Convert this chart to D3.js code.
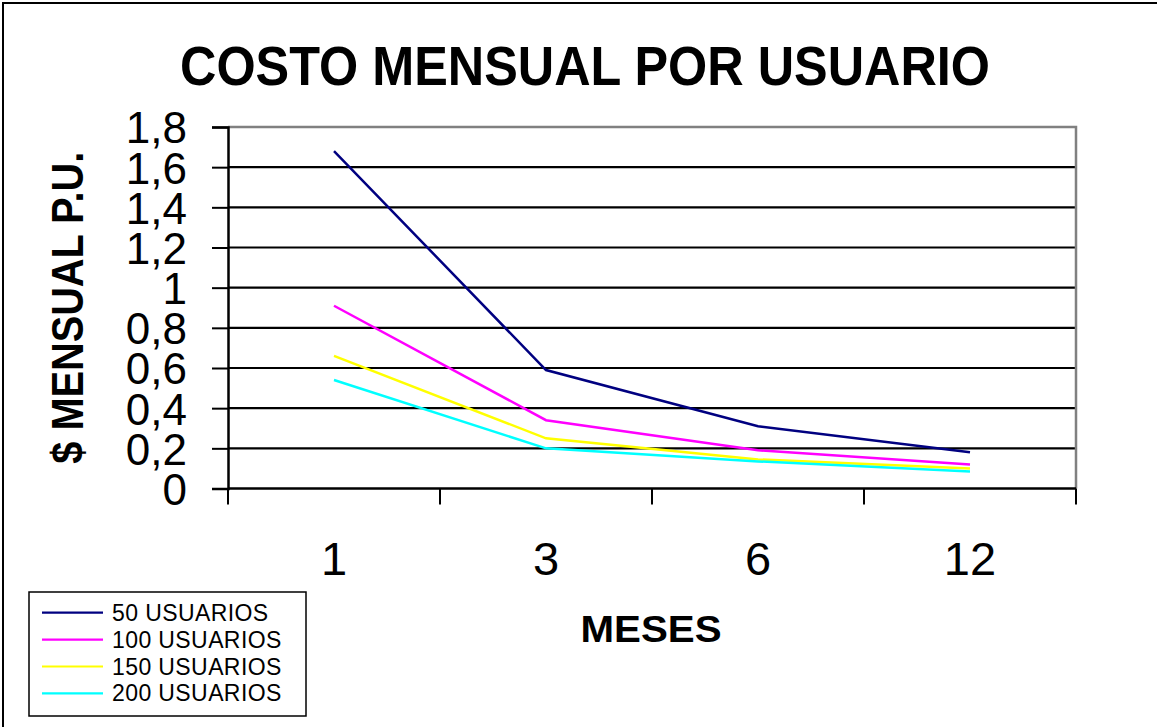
<!DOCTYPE html>
<html>
<head>
<meta charset="utf-8">
<script src="https://cdn.jsdelivr.net/npm/d3@7"></script>
<style>
  html, body { margin: 0; padding: 0; background: #fff; }
  svg { display: block; font-family: "Liberation Sans", Arial, sans-serif; }
</style>
</head>
<body>
<svg id="chart" width="1157" height="727"></svg>
<script>
// Months on the horizontal axis
const months = ["1", "3", "6", "12"];

// Monthly cost per user for each subscription size
const series50 = [1.68, 0.59, 0.31, 0.18];
const series100 = [0.91, 0.34, 0.19, 0.12];
const series150 = [0.66, 0.25, 0.145, 0.10];
const series200 = [0.54, 0.20, 0.135, 0.085];

const seriesNames = ["50 USUARIOS", "100 USUARIOS", "150 USUARIOS", "200 USUARIOS"];
const seriesColors = ["#000080", "#ff00ff", "#ffff00", "#00ffff"];
const yTickValues = [0, 0.2, 0.4, 0.6, 0.8, 1.0, 1.2, 1.4, 1.6, 1.8];

const allSeries = [series50, series100, series150, series200];

const svg = d3.select("#chart");
const W = 1157, H = 727;

// Plot area
const plot = { left: 228, right: 1076, top: 127, bottom: 488.5 };

const x = d3.scaleBand().domain(months).range([plot.left, plot.right]).padding(0);
const y = d3.scaleLinear().domain([0, 1.8]).range([plot.bottom, plot.top]);

const locale = d3.formatLocale({ decimal: ",", thousands: ".", grouping: [3], currency: ["$", ""] });
const fmt = locale.format(".1~f");

// Outer frame
svg.append("rect")
  .attr("x", 3).attr("y", 3)
  .attr("width", W + 10).attr("height", H + 10)
  .attr("fill", "#fff").attr("stroke", "#000").attr("stroke-width", 2);

// Title
svg.append("text")
  .attr("x", 585).attr("y", 85)
  .attr("text-anchor", "middle")
  .attr("font-size", 55).attr("font-weight", "bold")
  .attr("textLength", 810).attr("lengthAdjust", "spacingAndGlyphs")
  .text("COSTO MENSUAL POR USUARIO");

// Horizontal gridlines
svg.append("g")
  .selectAll("line")
  .data(yTickValues.filter(v => v > 0 && v < 1.8))
  .join("line")
  .attr("x1", plot.left).attr("x2", plot.right)
  .attr("y1", d => y(d)).attr("y2", d => y(d))
  .attr("stroke", "#000").attr("stroke-width", 2.2);

// Plot frame top and right (grey)
svg.append("path")
  .attr("d", `M${plot.left},${y(1.8)}H${plot.right}V${plot.bottom}`)
  .attr("fill", "none").attr("stroke", "#808080").attr("stroke-width", 2.5);

// Y axis
const yAxis = svg.append("g")
  .attr("transform", `translate(${plot.left},0)`)
  .call(d3.axisLeft(y).tickValues(yTickValues).tickFormat(fmt).tickSize(16).tickPadding(25));
yAxis.select(".domain").attr("stroke", "#000").attr("stroke-width", 2.5);
yAxis.selectAll(".tick line").attr("stroke", "#000").attr("stroke-width", 2);
yAxis.selectAll(".tick text")
  .attr("font-size", 44).attr("fill", "#000")
  .attr("font-family", "Liberation Sans, Arial, sans-serif")
  .attr("dy", "0.36em");

// X axis with ticks at band boundaries
const xAxis = svg.append("g")
  .attr("transform", `translate(0,${plot.bottom})`);
xAxis.append("line")
  .attr("x1", plot.left).attr("x2", plot.right)
  .attr("stroke", "#000").attr("stroke-width", 2.5);
const boundaries = months.map(m => x(m)).concat([x(months[months.length - 1]) + x.bandwidth()]);
xAxis.selectAll("line.tk")
  .data(boundaries)
  .join("line")
  .attr("class", "tk")
  .attr("x1", d => d).attr("x2", d => d)
  .attr("y1", 0).attr("y2", 16)
  .attr("stroke", "#000").attr("stroke-width", 2);
xAxis.selectAll("text")
  .data(months)
  .join("text")
  .attr("x", d => x(d) + x.bandwidth() / 2)
  .attr("y", 86)
  .attr("text-anchor", "middle")
  .attr("font-size", 47)
  .text(d => d);

// Axis titles
svg.append("text")
  .attr("x", 651).attr("y", 642)
  .attr("text-anchor", "middle")
  .attr("font-size", 37).attr("font-weight", "bold")
  .attr("textLength", 141).attr("lengthAdjust", "spacingAndGlyphs")
  .text("MESES");

svg.append("text")
  .attr("transform", `translate(83,${(plot.top + plot.bottom) / 2}) rotate(-90)`)
  .attr("text-anchor", "middle")
  .attr("font-size", 44).attr("font-weight", "bold")
  .attr("textLength", 312).attr("lengthAdjust", "spacingAndGlyphs")
  .text("$ MENSUAL P.U.");

// Series lines
const line = d3.line()
  .x((d, i) => x(months[i]) + x.bandwidth() / 2)
  .y(d => y(d));

svg.append("g")
  .selectAll("path")
  .data(allSeries)
  .join("path")
  .attr("d", d => line(d))
  .attr("fill", "none")
  .attr("stroke", (d, i) => seriesColors[i])
  .attr("stroke-width", 2.5);

// Legend
const legend = svg.append("g");
legend.append("rect")
  .attr("x", 29).attr("y", 592)
  .attr("width", 277).attr("height", 124)
  .attr("fill", "#fff").attr("stroke", "#000").attr("stroke-width", 1.5);

const rows = legend.selectAll("g.row")
  .data(seriesNames)
  .join("g")
  .attr("class", "row")
  .attr("transform", (d, i) => `translate(0,${612.7 + i * 26.9})`);
rows.append("line")
  .attr("x1", 42).attr("x2", 103)
  .attr("stroke", (d, i) => seriesColors[i])
  .attr("stroke-width", 2.2);
rows.append("text")
  .attr("x", 112).attr("y", 8)
  .attr("font-size", 23)
  .attr("letter-spacing", 0.4)
  .text(d => d);
</script>
</body>
</html>
